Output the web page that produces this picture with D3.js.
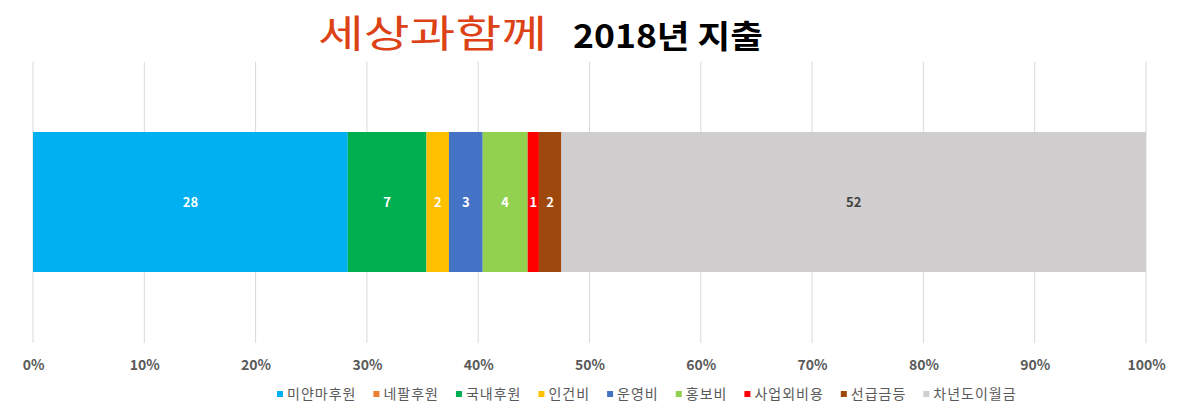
<!DOCTYPE html>
<html>
<head>
<meta charset="utf-8">
<script src="https://cdn.jsdelivr.net/npm/d3@7"></script>
<style>
  html, body { margin: 0; padding: 0; background: #fff; }
  svg { display: block; }
</style>
</head>
<body>
<svg id="chart" width="1200" height="407"></svg>
<script>
const seriesNames = ["미얀마후원", "네팔후원", "국내후원", "인건비", "운영비", "홍보비", "사업외비용", "선급금등", "차년도이월금"];
const seriesValues = [28, 0, 7, 2, 3, 4, 1, 2, 52];
const seriesColors = ["#00b0f0", "#ed7d31", "#00b050", "#ffc000", "#4472c4", "#92d050", "#ff0000", "#9e480e", "#d0cece"];
const labelColors = ["#fff", "#fff", "#fff", "#fff", "#fff", "#fff", "#fff", "#fff", "#404040"];
const tickValues = [0, 0.1, 0.2, 0.3, 0.4, 0.5, 0.6, 0.7, 0.8, 0.9, 1.0];
const logoText = "세상과함께";
const titleText = "2018년 지출";

const font = "'Noto Sans CJK KR', 'Noto Sans', sans-serif";
const svg = d3.select("#chart");

const x = d3.scaleLinear().domain([0, 1]).range([33, 1146]);
const total = d3.sum(seriesValues);

// gridlines
svg.append("g").selectAll("line").data(tickValues).join("line")
  .attr("x1", d => x(d)).attr("x2", d => x(d))
  .attr("y1", 62).attr("y2", 343)
  .attr("stroke", "#d9d9d9").attr("stroke-width", 1);

// stacked segments
let cum = 0;
const segs = seriesValues.map((v, i) => {
  const s = { name: seriesNames[i], v, x0: cum / total, x1: (cum + v) / total, color: seriesColors[i], lc: labelColors[i] };
  cum += v;
  return s;
});

svg.append("g").selectAll("rect").data(segs.filter(d => d.v > 0)).join("rect")
  .attr("x", d => x(d.x0)).attr("width", d => x(d.x1) - x(d.x0))
  .attr("y", 132).attr("height", 140)
  .attr("fill", d => d.color);

svg.append("g").selectAll("text").data(segs.filter(d => d.v > 0)).join("text")
  .attr("x", d => (x(d.x0) + x(d.x1)) / 2)
  .attr("y", 202)
  .attr("dy", "0.35em")
  .attr("text-anchor", "middle")
  .attr("font-family", font).attr("font-weight", "bold").attr("font-size", 13)
  .attr("fill", d => d.lc)
  .text(d => d.v);

// axis tick labels
const axis = d3.axisBottom(x).tickValues(tickValues).tickFormat(d3.format(".0%")).tickSize(0).tickPadding(0);
const ag = svg.append("g").attr("transform", "translate(0,370)").call(axis);
ag.select(".domain").remove();
ag.selectAll("text")
  .attr("font-family", font).attr("font-weight", "bold").attr("font-size", 14)
  .attr("fill", "#595959").attr("dy", 0).attr("y", 0);

// legend (laid out from measured text widths)
const legendG = svg.append("g").attr("transform", "translate(0,394)");
let lx = 277;
seriesNames.forEach((name, i) => {
  const g = legendG.append("g").attr("transform", `translate(${lx},0)`);
  g.append("rect").attr("x", 0).attr("y", -3).attr("width", 6).attr("height", 6)
    .attr("fill", seriesColors[i]);
  const t = g.append("text").attr("x", 10).attr("y", 0).attr("dy", "0.35em")
    .attr("font-family", font).attr("font-size", 14).attr("letter-spacing", 1)
    .attr("fill", "#595959")
    .text(name);
  lx += 10 + t.node().getComputedTextLength() + 17;
});

// title
svg.append("text")
  .attr("x", 318).attr("y", 47)
  .attr("font-family", font).attr("font-size", 38).attr("font-weight", 400)
  .attr("fill", "#dc4216")
  .attr("textLength", 229).attr("lengthAdjust", "spacingAndGlyphs")
  .text(logoText);
svg.append("text")
  .attr("x", 573).attr("y", 48)
  .attr("font-family", font).attr("font-size", 32).attr("font-weight", "bold")
  .attr("fill", "#000")
  .attr("textLength", 190).attr("lengthAdjust", "spacingAndGlyphs")
  .text(titleText);
</script>
</body>
</html>
